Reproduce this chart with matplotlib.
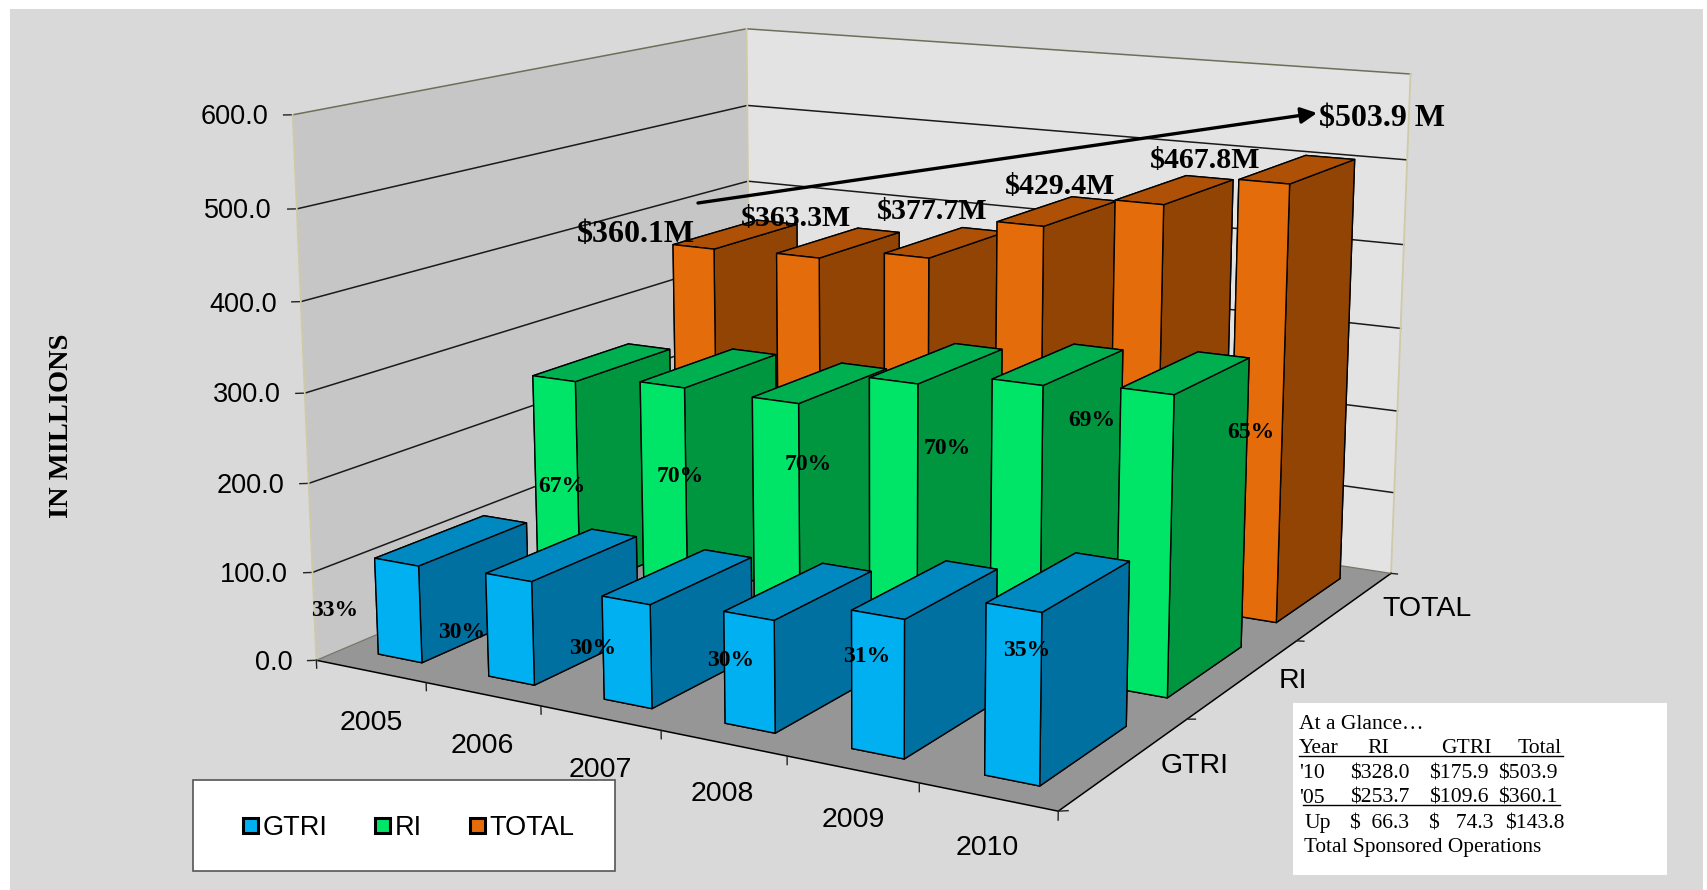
import numpy as np
import matplotlib
matplotlib.use('Agg')
import matplotlib.pyplot as plt
from matplotlib.patches import Rectangle, FancyArrowPatch
from matplotlib.lines import Line2D
from mpl_toolkits.mplot3d.art3d import Poly3DCollection

W, H = 1708, 890

# dados
anos = ['2005', '2006', '2007', '2008', '2009', '2010']
series = ['GTRI', 'RI', 'TOTAL']
gtri = [109.6, 115.0, 113.0, 120.0, 145.0, 175.9]
ri = [253.7, 264.0, 264.0, 304.0, 320.0, 328.0]
total = [360.1, 363.3, 377.7, 429.4, 467.8, 503.9]
z_ticks = [0, 100, 200, 300, 400, 500, 600]

pct_gtri = ['33%', '30%', '30%', '30%', '31%', '35%']
pct_ri = ['67%', '70%', '70%', '70%', '69%', '65%']
total_labels = ['$360.1M', '$363.3M', '$377.7M', '$429.4M', '$467.8M']
ultimo_label = '$503.9 M'

# cores: frente, topo, lado
cores = {
    'GTRI': ('#00b0f0', '#0088c0', '#0070a0'),
    'RI': ('#00e468', '#00b050', '#009640'),
    'TOTAL': ('#e46c0a', '#ae5005', '#924405'),
}

def fx(x):
    return x / W

def fy(y):
    return 1 - y / H

def texto(x, y, s, **kw):
    return fig.text(fx(x), fy(y), s, **kw)

fig = plt.figure(figsize=(W / 100, H / 100), dpi=100, facecolor='white')
fig.add_artist(Rectangle((fx(10), 0), fx(1703 - 10), fy(9), transform=fig.transFigure,
                         facecolor='#d9d9d9', edgecolor='none', zorder=-1))

# camera ajustada nos cantos da caixa
s, tx, ty = 6565.49, 878.17, 530.76
side = s * 0.185
ax = fig.add_axes([(tx - s * 0.095) / W, (ty - s * 0.095) / H, side / W, side / H], projection='3d')
ax.set_xlim(0, 6)
ax.set_ylim(0, 3)
ax.set_zlim(0, 600)
ax.view_init(12.8511, -60.221, 0.0083)
ax.set_proj_type('persp', focal_length=0.4627)
ax.set_box_aspect((1.506, 1.4865, 1))
ax.set_axis_off()
ax.patch.set_alpha(0)
ax.computed_zorder = False

def parede(verts, cor, z):
    p = Poly3DCollection([verts], facecolors=cor, edgecolors='none', zorder=z)
    p.set_clip_on(False)
    ax.add_collection3d(p)

parede([(0, 0, 0), (0, 3, 0), (0, 3, 600), (0, 0, 600)], '#c6c6c6', 1)
parede([(0, 3, 0), (6, 3, 0), (6, 3, 600), (0, 3, 600)], '#e3e3e3', 1)
parede([(0, 0, 0), (6, 0, 0), (6, 3, 0), (0, 3, 0)], '#969696', 2)

# grades
for z in z_ticks:
    cor = '#6e6e5a' if z == 600 else '#1a1a1a'
    if z > 0:
        ax.plot([0, 0, 6], [0, 3, 3], [z, z, z], color=cor, lw=1.1, zorder=3)
    # marca horizontal na tela
    ax.plot([0, -0.05], [0, -0.019], [z, z], color='#222222', lw=1, zorder=3)
for xv, yv in [(0, 0), (0, 3), (6, 3)]:
    ax.plot([xv, xv], [yv, yv], [0, 600], color='#cfcaa8', lw=1.3, zorder=3)
ax.plot([0, 6, 6], [0, 0, 3], [0, 0, 0], color='black', lw=1.1, zorder=3)
ax.plot([0, 0, 6], [0, 3, 3], [0, 0, 0], color='#77776a', lw=0.9, zorder=3)
for i in range(7):
    ax.plot([i, i], [0, 0], [0, -9], color='#222222', lw=1, zorder=3)
for j, r in zip(range(4), [0.39, 0.29, 0.19, 0.09]):
    ax.plot([6, 6.05], [j, j + 0.05 * r], [0, 0], color='#222222', lw=1, zorder=3)

# barras, de tras para frente e da esquerda para a direita
bar_gx, bar_w = 0.30, 0.40
bar_gy, bar_d = 0.17, 0.66
valores = [gtri, ri, total]
for j in [2, 1, 0]:
    frente, topo, lado = cores[series[j]]
    for i in range(len(anos)):
        col = ax.bar3d(i + bar_gx, j + bar_gy, 0, bar_w, bar_d, valores[j][i],
                       color=[topo, topo, frente, frente, lado, lado], shade=False,
                       edgecolor='black', linewidth=1, zorder=10 + (2 - j) * 10 + i)
        col.set_clip_on(False)

# rotulos do eixo z
z_pos = [(293, 663), (288, 575), (284, 486), (281, 395), (277, 305), (272, 211), (268, 117)]
for z, (xp, yp) in zip(z_ticks, z_pos):
    texto(xp, yp, f'{z:.1f}', family='Liberation Sans', fontsize=19.5, ha='right', va='center')

# rotulos de ano e serie
ano_pos = [(371, 723), (482, 746), (600, 770), (722, 794), (853, 820), (987, 848)]
for a, (xp, yp) in zip(anos, ano_pos):
    texto(xp, yp, a, family='Liberation Sans', fontsize=20.5, ha='center', va='center')
serie_pos = [(1195, 766), (1293, 681), (1427, 609)]
for n, (xp, yp) in zip(series, serie_pos):
    texto(xp, yp, n, family='Liberation Sans', fontsize=20.5, ha='center', va='center')

texto(62, 426, 'IN MILLIONS', family='Liberation Serif', fontweight='bold', fontsize=20.5,
      rotation=90, ha='center', va='center')

# percentuais
pg_pos = [(335, 610), (462, 632), (593, 649), (731, 661), (867, 656), (1027, 650)]
for t, (xp, yp) in zip(pct_gtri, pg_pos):
    texto(xp, yp, t, family='Liberation Serif', fontweight='bold', fontsize=17, ha='center', va='center')
pr_pos = [(562, 487), (680, 476), (808, 464), (947, 448), (1092, 421), (1251, 433)]
for t, (xp, yp) in zip(pct_ri, pr_pos):
    texto(xp, yp, t, family='Liberation Serif', fontweight='bold', fontsize=17, ha='center', va='center')

# totais
tl_pos = [(636, 235), (796, 218), (932, 211), (1060, 187), (1205, 161)]
tl_size = [23, 21.5, 21.5, 21.5, 21.5]
for t, (xp, yp), fs in zip(total_labels, tl_pos, tl_size):
    texto(xp, yp, t, family='Liberation Serif', fontweight='bold', fontsize=fs, ha='center', va='center')
texto(1319, 118, ultimo_label, family='Liberation Serif', fontweight='bold', fontsize=23, ha='left', va='center')

fig.add_artist(FancyArrowPatch((fx(698), fy(203)), (fx(1317), fy(113)), transform=fig.transFigure,
                               arrowstyle='-|>', mutation_scale=24, lw=2.4, color='black',
                               shrinkA=0, shrinkB=0))

# legenda
fig.add_artist(Rectangle((fx(193), fy(871)), fx(615 - 193), fy(780) - fy(871), transform=fig.transFigure,
                         facecolor='white', edgecolor='#555555', lw=1.2, zorder=1))
for n, xs, xt in zip(series, [243, 375, 470], [263, 395, 489]):
    fig.add_artist(Rectangle((fx(xs), fy(833)), fx(15), fy(818) - fy(833), transform=fig.transFigure,
                             facecolor=cores[n][0], edgecolor='black', lw=2.2, zorder=2))
    texto(xt, 835, n, family='Liberation Sans', fontsize=19.5, ha='left', va='baseline')

# tabela "At a Glance"
fig.add_artist(Rectangle((fx(1293), fy(875)), fx(1667 - 1293), fy(703) - fy(875), transform=fig.transFigure,
                         facecolor='white', edgecolor='none', zorder=1))
tab_kw = dict(family='Liberation Serif', fontsize=15.6, ha='left', va='baseline')
texto(1299, 729, 'At a Glance…', **tab_kw)
linhas = [
    (753, [(1299, 'Year'), (1367, 'RI'), (1441, 'GTRI'), (1518, 'Total')]),
    (778, [(1299, "'10"), (1350, '$328.0'), (1429, '$175.9'), (1498, '$503.9')]),
    (803, [(1299, "'05"), (1350, '$253.7'), (1429, '$109.6'), (1498, '$360.1')]),
    (828, [(1305, 'Up'), (1350, '$  66.3'), (1429, '$   74.3'), (1505, '$143.8')]),
]
for yp, celulas in linhas:
    for xp, t in celulas:
        texto(xp, yp, t, **tab_kw)
texto(1304, 852, 'Total Sponsored Operations', family='Liberation Serif', fontsize=15.3, ha='left', va='baseline')
for yp, x0, x1 in [(755.5, 1299, 1563), (804.5, 1303, 1560)]:
    fig.add_artist(Line2D([fx(x0), fx(x1)], [fy(yp), fy(yp)], transform=fig.transFigure, color='black', lw=1))

fig.savefig('out.png', dpi=100)
